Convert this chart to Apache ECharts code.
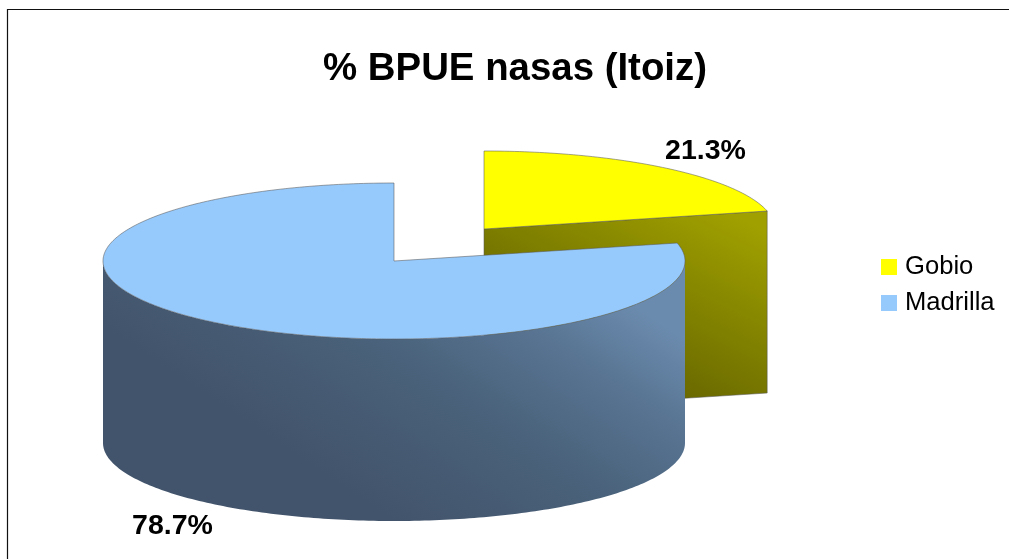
<!DOCTYPE html>
<html>
<head>
<meta charset="utf-8">
<style>html,body{margin:0;padding:0;background:#fff}#c{width:1009px;height:559px}</style>
<script src="https://cdn.jsdelivr.net/npm/echarts@6/dist/echarts.min.js"></script>
</head>
<body>
<div id="c"></div>
<script>
const categories = ['Gobio', 'Madrilla'];
const shares = [21.3, 78.7];
const topColors = ['#ffff00', '#97cafc'];
const titleText = '% BPUE nasas (Itoiz)';

// layout of the tilted pie
const centers = [[484, 229], [394, 261]];
const labelOffsets = [[41, -17], [-41, 22]];
const RX = 291, RY = 78, DEPTH = 182;
const FONT = '"Liberation Sans", Arial, sans-serif';
const EDGE = 'rgba(90,90,90,0.55)';

const total = shares.reduce((a, b) => a + b, 0);
const D2R = Math.PI / 180;
function pt(c, deg, dy) {
  return [c[0] + RX * Math.sin(deg * D2R), c[1] - RY * Math.cos(deg * D2R) + (dy || 0)];
}
function arc(c, a0, a1, dy) {
  const n = Math.max(2, Math.ceil(Math.abs(a1 - a0)));
  const out = [];
  for (let i = 0; i <= n; i++) out.push(pt(c, a0 + (a1 - a0) * i / n, dy));
  return out;
}
const wallFill = new echarts.graphic.LinearGradient(0.8, 0, 0.5, 1, [
  { offset: 0, color: '#6b8bae' },
  { offset: 0.25, color: '#587492' },
  { offset: 0.55, color: '#4a627b' },
  { offset: 1, color: '#42546b' }
]);
const faceFill = new echarts.graphic.LinearGradient(0.85, 0, 0.5, 1, [
  { offset: 0, color: '#a0a000' },
  { offset: 1, color: '#5e5e00' }
]);

function makeRender(idx) {
  return function (params, api) {
    const value = api.value(0);
    const before = shares.slice(0, idx).reduce((a, b) => a + b, 0);
    const a0 = before / total * 360;
    const a1 = a0 + value / total * 360;
    const c = centers[idx];
    const children = [];
    // radial end face, visible when it turns toward the viewer
    if (a1 > 0 && a1 < 180) {
      const e = pt(c, a1);
      children.push({ type: 'polygon', shape: { points: [c, e, [e[0], e[1] + DEPTH], [c[0], c[1] + DEPTH]] },
        style: { fill: faceFill, stroke: EDGE, lineWidth: 1 } });
    }
    // outer front wall
    const w0 = Math.max(a0, 90), w1 = Math.min(a1, 270);
    if (w1 > w0) {
      children.push({ type: 'polygon',
        shape: { points: arc(c, w0, w1).concat(arc(c, w1, w0, DEPTH)) },
        style: { fill: wallFill } });
    }
    // top face
    children.push({ type: 'polygon', shape: { points: [c].concat(arc(c, a0, a1)) },
      style: { fill: topColors[idx], stroke: EDGE, lineWidth: 1 } });
    // percentage label
    const mid = (a0 + a1) / 2;
    const inFront = Math.cos(mid * D2R) < 0;
    const p = pt(c, mid, inFront ? DEPTH : 0);
    children.push({ type: 'text', x: p[0] + labelOffsets[idx][0], y: p[1] + labelOffsets[idx][1],
      style: { text: value.toFixed(1) + '%', fill: '#000', font: 'bold 28.5px ' + FONT,
        textAlign: 'center', textVerticalAlign: 'middle' } });
    return { type: 'group', children };
  };
}

const chart = echarts.init(document.getElementById('c'), null, { renderer: 'canvas' });
chart.setOption({
  animation: false,
  backgroundColor: '#fff',
  title: {
    text: titleText, left: 323, top: 50, padding: 0,
    textStyle: { fontFamily: FONT, fontWeight: 'bold', fontSize: 38.4, color: '#000' }
  },
  legend: {
    left: 881, top: 254, padding: 0, orient: 'vertical', itemWidth: 16, itemHeight: 16, itemGap: 10,
    selectedMode: false,
    data: categories.map((n, i) => ({ name: n, icon: 'rect', itemStyle: { color: topColors[i] } })),
    textStyle: { fontFamily: FONT, fontSize: 25.6, color: '#000', padding: [4, 0, 0, 3], lineHeight: 22 }
  },
  graphic: [
    { type: 'polyline', silent: true, shape: { points: [[7.5, 559], [7.5, 9.5], [1009, 9.5]] },
      style: { fill: null, stroke: '#111', lineWidth: 1.2 } }
  ],
  series: categories.map((n, i) => ({
    type: 'custom', name: n, coordinateSystem: 'none', silent: true, z: 2 + i,
    itemStyle: { color: topColors[i] },
    renderItem: makeRender(i),
    data: [[shares[i]]]
  }))
});
</script>
</body>
</html>
